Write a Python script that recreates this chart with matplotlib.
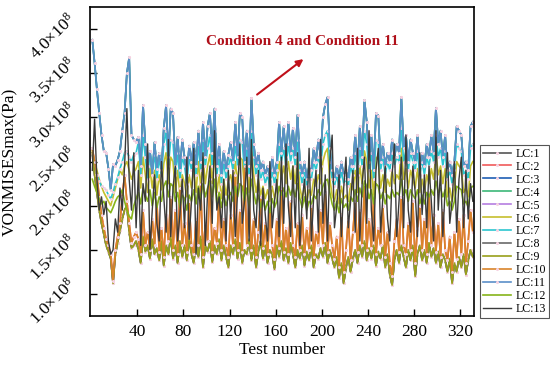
import numpy as np
import matplotlib
matplotlib.use("Agg")
import matplotlib.pyplot as plt
import matplotlib.transforms as mtransforms

# values are in units of 1e8 Pa, one every second test (1, 3, 5, ... 331)
high = [3.88, 3.62, 3.32, 3.05, 2.80, 2.62, 2.60, 2.42, 2.18, 2.47,
        2.45, 2.52, 2.62, 2.85, 3.05, 3.50, 3.68, 2.80, 2.75, 2.72,
        2.78, 2.45, 3.14, 2.70, 2.45, 2.62, 2.35, 2.72, 2.42, 2.60,
        2.40, 2.88, 3.14, 2.55, 3.10, 3.05, 2.45, 2.78, 2.40, 2.75,
        2.55, 2.35, 2.68, 2.50, 2.72, 2.45, 2.85, 2.50, 2.95, 2.55,
        2.90, 3.05, 2.60, 3.10, 2.45, 2.70, 2.35, 2.62, 2.40, 2.58,
        2.72, 2.50, 2.95, 2.55, 3.05, 3.00, 2.50, 2.85, 2.45, 3.22,
        2.70, 2.45, 2.60, 2.40, 2.50, 2.35, 2.45, 2.30, 2.55, 2.35,
        2.50, 2.95, 2.60, 2.90, 2.55, 2.95, 2.60, 2.88, 2.55, 3.03,
        2.50, 2.35, 2.50, 2.30, 2.45, 2.40, 2.65, 2.50, 2.75, 2.55,
        3.00, 3.15, 3.23, 2.65, 2.40, 2.30, 2.45, 2.30, 2.50, 2.35,
        2.40, 2.30, 2.55, 2.45, 2.80, 2.45, 2.90, 2.55, 3.20, 2.95,
        2.50, 2.80, 2.40, 3.05, 3.02, 2.50, 2.70, 2.45, 2.60, 2.50,
        2.75, 2.55, 2.70, 2.60, 3.23, 2.65, 2.80, 2.50, 2.75, 2.60,
        2.50, 2.80, 2.45, 2.60, 2.45, 2.70, 2.55, 2.80, 2.60, 3.11,
        2.70, 2.85, 2.55, 2.80, 2.40, 2.50, 2.35, 2.50, 2.90, 2.85,
        2.80, 2.45, 2.50, 2.40, 2.90, 2.95]

cyan = [2.55, 2.45, 2.35, 2.28, 2.22, 2.20, 2.18, 2.12, 2.08, 2.15,
        2.25, 2.32, 2.42, 2.50, 2.60, 2.62, 2.55, 2.50, 2.58, 2.60,
        2.72, 2.35, 2.80, 2.55, 2.30, 2.62, 2.40, 2.58, 2.30, 2.55,
        2.35, 2.70, 2.85, 2.45, 2.75, 2.72, 2.35, 2.60, 2.30, 2.55,
        2.45, 2.25, 2.55, 2.40, 2.60, 2.35, 2.70, 2.40, 2.75, 2.45,
        2.65, 2.80, 2.45, 2.85, 2.35, 2.55, 2.25, 2.50, 2.30, 2.45,
        2.55, 2.40, 2.70, 2.45, 2.75, 2.72, 2.40, 2.65, 2.35, 2.85,
        2.55, 2.35, 2.50, 2.30, 2.40, 2.25, 2.35, 2.20, 2.40, 2.25,
        2.40, 2.70, 2.50, 2.65, 2.45, 2.70, 2.50, 2.65, 2.45, 2.75,
        2.40, 2.25, 2.40, 2.22, 2.35, 2.30, 2.50, 2.40, 2.55, 2.45,
        2.70, 2.80, 2.85, 2.50, 2.30, 2.22, 2.35, 2.20, 2.40, 2.25,
        2.30, 2.22, 2.45, 2.35, 2.60, 2.35, 2.65, 2.45, 2.85, 2.70,
        2.40, 2.60, 2.30, 2.75, 2.72, 2.40, 2.55, 2.35, 2.50, 2.40,
        2.60, 2.45, 2.55, 2.50, 2.88, 2.50, 2.62, 2.40, 2.60, 2.50,
        2.40, 2.62, 2.35, 2.50, 2.35, 2.55, 2.45, 2.62, 2.50, 2.80,
        2.55, 2.65, 2.45, 2.62, 2.30, 2.40, 2.25, 2.40, 2.70, 2.65,
        2.62, 2.35, 2.40, 2.30, 2.65, 2.70]

mid = [2.62, 2.50, 2.40, 2.30, 2.22, 2.15, 2.10, 2.05, 2.00, 2.10,
       2.20, 2.30, 2.40, 2.35, 2.45, 2.50, 2.40, 2.30, 2.38, 2.42,
       2.50, 2.20, 2.55, 2.35, 2.15, 2.42, 2.20, 2.40, 2.12, 2.35,
       2.18, 2.48, 2.60, 2.25, 2.55, 2.50, 2.15, 2.40, 2.12, 2.35,
       2.25, 2.10, 2.35, 2.20, 2.42, 2.15, 2.50, 2.22, 2.55, 2.25,
       2.45, 2.58, 2.25, 2.62, 2.15, 2.35, 2.08, 2.30, 2.12, 2.28,
       2.35, 2.20, 2.50, 2.25, 2.55, 2.52, 2.20, 2.45, 2.15, 2.62,
       2.35, 2.15, 2.30, 2.12, 2.22, 2.08, 2.18, 2.05, 2.22, 2.08,
       2.20, 2.50, 2.30, 2.45, 2.25, 2.50, 2.30, 2.45, 2.25, 2.55,
       2.20, 2.08, 2.22, 2.05, 2.18, 2.12, 2.30, 2.22, 2.35, 2.25,
       2.50, 2.60, 2.65, 2.30, 2.12, 2.05, 2.18, 2.02, 2.22, 2.08,
       2.12, 2.05, 2.25, 2.18, 2.40, 2.15, 2.45, 2.25, 2.62, 2.50,
       2.20, 2.40, 2.12, 2.55, 2.52, 2.20, 2.35, 2.15, 2.30, 2.22,
       2.40, 2.25, 2.35, 2.30, 2.65, 2.30, 2.42, 2.20, 2.40, 2.30,
       2.20, 2.42, 2.15, 2.30, 2.15, 2.35, 2.25, 2.42, 2.30, 2.60,
       2.35, 2.45, 2.25, 2.42, 2.10, 2.20, 2.05, 2.20, 2.50, 2.45,
       2.42, 2.15, 2.20, 2.10, 2.45, 2.50]

green = [2.30, 2.22, 2.15, 2.08, 2.02, 2.05, 1.98, 1.95, 1.92, 1.98,
         2.05, 2.10, 2.12, 2.18, 2.05, 1.95, 1.88, 1.85, 2.00, 2.08,
         2.15, 2.02, 2.20, 2.12, 2.05, 2.18, 2.00, 2.15, 1.98, 2.10,
         2.05, 2.22, 2.28, 2.10, 2.25, 2.22, 2.05, 2.15, 1.98, 2.12,
         2.08, 1.95, 2.12, 2.05, 2.18, 2.02, 2.22, 2.08, 2.25, 2.10,
         2.20, 2.28, 2.10, 2.30, 2.02, 2.15, 1.98, 2.12, 2.00, 2.10,
         2.15, 2.05, 2.22, 2.10, 2.25, 2.22, 2.05, 2.20, 2.00, 2.30,
         2.15, 2.02, 2.12, 1.98, 2.08, 1.95, 2.05, 1.92, 2.08, 1.98,
         2.05, 2.22, 2.12, 2.20, 2.10, 2.22, 2.12, 2.20, 2.10, 2.25,
         2.08, 1.98, 2.10, 1.95, 2.05, 2.02, 2.12, 2.08, 2.18, 2.12,
         2.22, 2.28, 2.30, 2.15, 2.02, 1.95, 2.05, 1.92, 2.08, 1.98,
         2.02, 1.95, 2.10, 2.05, 2.18, 2.05, 2.20, 2.10, 2.28, 2.22,
         2.08, 2.18, 2.02, 2.25, 2.22, 2.08, 2.15, 2.02, 2.12, 2.08,
         2.18, 2.10, 2.15, 2.12, 2.30, 2.12, 2.18, 2.05, 2.18, 2.12,
         2.08, 2.18, 2.02, 2.12, 2.02, 2.15, 2.10, 2.18, 2.12, 2.28,
         2.15, 2.20, 2.10, 2.18, 2.00, 2.05, 1.95, 2.05, 2.22, 2.20,
         2.18, 2.02, 2.05, 1.98, 2.20, 2.22]

dark = [2.40, 2.98, 2.30, 1.95, 2.10, 1.90, 2.05, 1.60, 1.45, 1.50,
        1.85, 1.70, 2.20, 1.95, 2.45, 3.10, 2.30, 1.95, 2.60, 1.75,
        2.40, 1.55, 2.25, 2.05, 2.70, 1.50, 1.95, 2.35, 1.80, 1.60,
        2.50, 2.10, 1.70, 2.75, 1.65, 2.20, 2.45, 1.60, 1.90, 2.30,
        1.75, 2.55, 1.62, 2.05, 2.65, 1.45, 2.20, 1.95, 2.60, 1.55,
        2.15, 2.45, 1.80, 2.85, 1.95, 2.10, 1.75, 2.30, 1.60, 2.40,
        1.85, 2.40, 1.65, 2.15, 2.70, 1.80, 2.05, 2.55, 1.60, 2.75,
        1.95, 1.75, 2.40, 1.55, 2.20, 1.90, 1.60, 2.50, 1.75, 2.05,
        2.30, 1.65, 2.55, 1.80, 2.70, 2.00, 1.65, 2.45, 1.75, 2.60,
        1.55, 2.05, 2.30, 1.85, 2.65, 1.60, 2.10, 2.40, 1.70, 2.75,
        1.80, 2.35, 1.60, 2.50, 2.80, 1.75, 2.00, 2.35, 1.65, 2.20,
        2.55, 1.75, 2.05, 2.40, 1.70, 2.65, 1.60, 2.25, 2.55, 1.80,
        2.85, 1.95, 1.60, 2.40, 2.65, 1.70, 2.10, 2.45, 1.85, 1.60,
        2.35, 2.70, 1.65, 2.05, 2.55, 1.75, 2.80, 1.95, 1.70, 2.45,
        2.15, 1.65, 2.60, 1.90, 2.35, 1.75, 2.45, 2.05, 1.60, 2.85,
        1.95, 2.40, 1.65, 2.20, 2.60, 1.80, 2.05, 2.50, 1.70, 2.30,
        2.55, 1.75, 2.40, 1.85, 2.25, 2.05]

low = [2.60, 2.35, 2.15, 1.95, 1.80, 1.68, 1.55, 1.48, 1.40, 1.12,
       1.45, 1.58, 1.72, 1.85, 1.95, 2.00, 1.70, 1.52, 1.55, 1.60,
       1.50, 1.35, 1.65, 1.48, 1.55, 1.40, 1.62, 1.45, 1.52, 1.38,
       1.60, 1.32, 1.55, 1.45, 1.65, 1.40, 1.55, 1.35, 1.60, 1.42,
       1.55, 1.38, 1.62, 1.45, 1.35, 1.58, 1.42, 1.65, 1.30, 1.55,
       1.48, 1.60, 1.36, 1.55, 1.45, 1.62, 1.38, 1.55, 1.42, 1.30,
       1.55, 1.45, 1.62, 1.40, 1.58, 1.35, 1.50, 1.45, 1.62, 1.38,
       1.55, 1.30, 1.48, 1.60, 1.40, 1.55, 1.35, 1.50, 1.45, 1.28,
       1.55, 1.42, 1.60, 1.38, 1.52, 1.35, 1.58, 1.45, 1.30, 1.50,
       1.40, 1.55, 1.32, 1.48, 1.38, 1.55, 1.30, 1.45, 1.40, 1.52,
       1.42, 1.58, 1.35, 1.50, 1.40, 1.30, 1.42, 1.18, 1.35, 1.12,
       1.30, 1.42, 1.25, 1.40, 1.50, 1.35, 1.55, 1.42, 1.60, 1.38,
       1.52, 1.40, 1.55, 1.32, 1.48, 1.40, 1.55, 1.30, 1.45, 1.22,
       1.10, 1.38, 1.50, 1.35, 1.55, 1.42, 1.30, 1.50, 1.38, 1.55,
       1.20, 1.45, 1.55, 1.38, 1.50, 1.35, 1.58, 1.42, 1.52, 1.35,
       1.48, 1.30, 1.45, 1.38, 1.25, 1.40, 1.12, 1.35, 1.25, 1.42,
       1.30, 1.45, 1.22, 1.38, 1.50, 1.42]

orange = [2.65, 2.50, 2.35, 2.10, 1.90, 1.75, 1.62, 1.55, 1.45, 1.15,
          1.50, 1.65, 1.80, 2.10, 2.35, 2.05, 1.80, 1.58, 1.65, 1.70,
          1.62, 1.45, 1.95, 1.55, 1.70, 1.50, 1.85, 1.55, 2.05, 1.48,
          1.75, 1.42, 1.90, 1.60, 2.10, 1.50, 1.95, 1.45, 2.20, 1.55,
          1.80, 1.48, 2.05, 1.55, 1.45, 1.85, 1.55, 2.25, 1.42, 1.80,
          1.60, 2.30, 1.48, 1.75, 1.58, 2.15, 1.50, 1.85, 1.55, 1.42,
          1.90, 1.55, 2.35, 1.50, 1.95, 1.48, 2.45, 1.55, 2.05, 1.50,
          1.85, 1.42, 1.70, 2.10, 1.52, 1.80, 1.45, 1.95, 1.55, 1.40,
          1.85, 1.52, 2.20, 1.48, 1.75, 1.45, 2.05, 1.55, 1.42, 1.80,
          1.50, 1.90, 1.45, 1.75, 1.50, 2.00, 1.42, 1.70, 1.55, 1.95,
          1.55, 2.15, 1.48, 1.80, 1.55, 1.40, 1.65, 1.30, 1.90, 1.25,
          1.50, 1.85, 1.38, 1.70, 2.05, 1.48, 1.95, 1.55, 2.25, 1.50,
          1.85, 1.52, 2.10, 1.45, 1.75, 1.55, 2.00, 1.42, 1.70, 1.35,
          1.20, 1.60, 1.85, 1.48, 2.10, 1.55, 1.45, 1.80, 1.50, 2.05,
          1.35, 1.75, 2.00, 1.50, 1.85, 1.45, 2.15, 1.55, 1.90, 1.48,
          1.80, 1.42, 1.95, 1.50, 1.38, 1.65, 1.25, 1.70, 1.40, 1.85,
          1.45, 1.90, 1.35, 1.60, 1.95, 1.70]

test_number = list(range(1, 332, 2))

labels = ["LC:1", "LC:2", "LC:3", "LC:4", "LC:5", "LC:6", "LC:7",
          "LC:8", "LC:9", "LC:10", "LC:11", "LC:12", "LC:13"]
series = [low, orange, high, high, low, mid, cyan,
          low, low, orange, high, green, dark]
colors = ["#555555", "#f05a5a", "#1f5fb4", "#3cb878", "#b57ee0", "#c6bf2e", "#2cc6d0",
          "#6a6a6a", "#98a01a", "#d9842a", "#5b8fc8", "#86b41a", "#3a3a3a"]
marked = ["LC:1", "LC:2", "LC:3", "LC:5", "LC:7", "LC:8", "LC:10", "LC:11"]

xticks = [40, 80, 120, 160, 200, 240, 280, 320]
yticks = [1.0, 1.5, 2.0, 2.5, 3.0, 3.5, 4.0]
ytick_labels = [r"$\mathrm{%.1f{\times}10}^{\mathit{8}}$" % v for v in yticks]

plt.rcParams["font.family"] = "Liberation Serif"
plt.rcParams["mathtext.fontset"] = "custom"
plt.rcParams["mathtext.rm"] = "Liberation Serif"
plt.rcParams["mathtext.it"] = "Liberation Serif:italic"

fig = plt.figure(figsize=(5.5, 3.74), dpi=100)
ax = fig.add_axes([0.1636, 0.155, 0.6982, 0.826])

for lab, vals, col in zip(labels, series, colors):
    lw = 1.0 if lab == "LC:13" else 1.2
    if lab in marked:
        ax.plot(test_number[:len(vals)], vals, color=col, lw=lw, label=lab,
                marker="o", ms=2.2, mfc="#f6d2e2", mec="#f6d2e2", mew=0)
    else:
        ax.plot(test_number[:len(vals)], vals, color=col, lw=lw, label=lab)

ax.set_xlim(-1, 332)
ax.set_ylim(0.75, 4.25)
ax.set_xticks(xticks)
ax.set_yticks(yticks)
ax.set_yticklabels(ytick_labels, rotation=45, ha="right", va="center")
ax.tick_params(direction="in", length=5, width=1, labelsize=12.5)
ax.tick_params(axis="x", pad=6)
ax.tick_params(axis="y", pad=8)
offset = mtransforms.ScaledTranslation(0, -0.08, fig.dpi_scale_trans)
for t in ax.get_yticklabels():
    t.set_transform(t.get_transform() + offset)
for s in ax.spines.values():
    s.set_linewidth(1.2)

ax.set_xlabel("Test number", fontsize=12.5, labelpad=1)
ax.set_ylabel("VONMISESmax(Pa)", fontsize=12.5, labelpad=6)

ax.annotate("", xy=(186, 3.68), xytext=(142, 3.24),
            arrowprops=dict(arrowstyle="-|>", color="#c0101a", lw=1.5,
                            mutation_scale=10))
ax.text(183, 3.86, "Condition 4 and Condition 11", color="#b0101a",
        fontsize=11, fontweight="bold", ha="center", va="center")

leg = fig.legend(loc="upper left", bbox_to_anchor=(0.873, 0.613),
                 fontsize=8.6, labelspacing=0.08, handlelength=2.3,
                 handletextpad=0.4, borderpad=0.25, borderaxespad=0,
                 fancybox=False, framealpha=1, edgecolor="#555555")
leg.get_frame().set_linewidth(0.8)

fig.savefig("out.png", dpi=100)
